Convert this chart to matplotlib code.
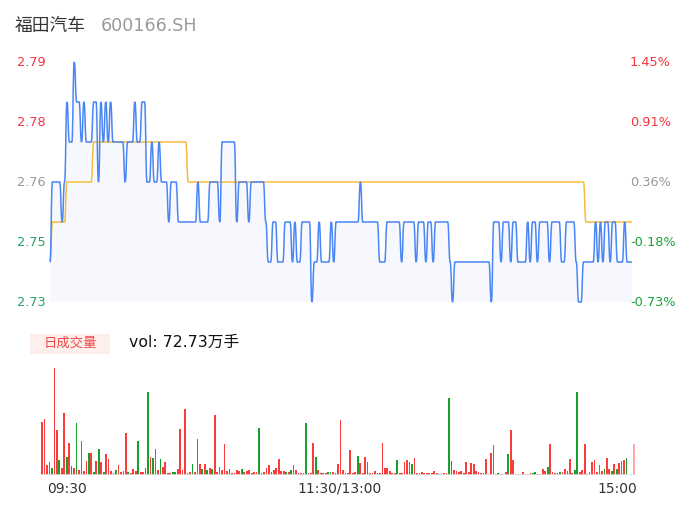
import matplotlib
matplotlib.use("Agg")
import matplotlib.pyplot as plt
from matplotlib.patches import Rectangle, PathPatch
from matplotlib.path import Path

plt.rcParams['font.family'] = ['DejaVu Sans', 'Noto Sans CJK SC']

name = "福田汽车"
code = "600166.SH"
prev_close = 2.75
total_vol = "72.73万手"

# minute prices, 09:30-11:30 then 13:01-15:00
price = [
    2.74, 2.76, 2.76, 2.76, 2.76, 2.75, 2.76, 2.78, 2.77, 2.77,
    2.79, 2.78, 2.78, 2.77, 2.78, 2.77, 2.77, 2.77, 2.78, 2.78,
    2.76, 2.78, 2.77, 2.78, 2.77, 2.78, 2.77, 2.77, 2.77, 2.77,
    2.77, 2.76, 2.77, 2.77, 2.77, 2.78, 2.77, 2.77, 2.78, 2.78,
    2.76, 2.76, 2.77, 2.76, 2.76, 2.77, 2.76, 2.76, 2.76, 2.75,
    2.76, 2.76, 2.76, 2.75, 2.75, 2.75, 2.75, 2.75, 2.75, 2.75,
    2.75, 2.76, 2.75, 2.75, 2.75, 2.75, 2.76, 2.76, 2.76, 2.76,
    2.75, 2.77, 2.77, 2.77, 2.77, 2.77, 2.77, 2.75, 2.76, 2.76,
    2.76, 2.76, 2.75, 2.76, 2.76, 2.76, 2.76, 2.76, 2.76, 2.75,
    2.74, 2.74, 2.75, 2.75, 2.74, 2.74, 2.74, 2.75, 2.75, 2.75,
    2.74, 2.75, 2.74, 2.74, 2.75, 2.75, 2.75, 2.75, 2.73, 2.74,
    2.74, 2.75, 2.74, 2.74, 2.74, 2.74, 2.75, 2.74, 2.75, 2.75,
    2.75, 2.75, 2.75, 2.75, 2.75, 2.75, 2.75, 2.75, 2.76, 2.75,
    2.75, 2.75, 2.75, 2.75, 2.75, 2.75, 2.74, 2.74, 2.74, 2.75,
    2.75, 2.75, 2.75, 2.75, 2.75, 2.74, 2.75, 2.75, 2.75, 2.75,
    2.75, 2.74, 2.75, 2.75, 2.75, 2.74, 2.75, 2.75, 2.74, 2.75,
    2.75, 2.75, 2.75, 2.75, 2.75, 2.74, 2.73, 2.74, 2.74, 2.74,
    2.74, 2.74, 2.74, 2.74, 2.74, 2.74, 2.74, 2.74, 2.74, 2.74,
    2.74, 2.74, 2.73, 2.75, 2.75, 2.75, 2.74, 2.75, 2.75, 2.75,
    2.74, 2.75, 2.75, 2.74, 2.74, 2.74, 2.74, 2.75, 2.74, 2.75,
    2.75, 2.74, 2.75, 2.75, 2.75, 2.75, 2.74, 2.75, 2.75, 2.75,
    2.75, 2.74, 2.74, 2.75, 2.75, 2.75, 2.75, 2.74, 2.73, 2.73,
    2.74, 2.74, 2.74, 2.74, 2.74, 2.75, 2.74, 2.75, 2.74, 2.75,
    2.75, 2.74, 2.75, 2.75, 2.74, 2.74, 2.74, 2.75, 2.74, 2.74,
    2.74,
]

# average price line (shown rounded to the tick)
avg = [
    2.74, 2.75, 2.75, 2.75, 2.75, 2.75, 2.75, 2.76, 2.76, 2.76,
    2.76, 2.76, 2.76, 2.76, 2.76, 2.76, 2.76, 2.76, 2.77, 2.77,
    2.77, 2.77, 2.77, 2.77, 2.77, 2.77, 2.77, 2.77, 2.77, 2.77,
    2.77, 2.77, 2.77, 2.77, 2.77, 2.77, 2.77, 2.77, 2.77, 2.77,
    2.77, 2.77, 2.77, 2.77, 2.77, 2.77, 2.77, 2.77, 2.77, 2.77,
    2.77, 2.77, 2.77, 2.77, 2.77, 2.77, 2.77, 2.76, 2.76, 2.76,
    2.76, 2.76, 2.76, 2.76, 2.76, 2.76, 2.76, 2.76, 2.76, 2.76,
    2.76, 2.76, 2.76, 2.76, 2.76, 2.76, 2.76, 2.76, 2.76, 2.76,
    2.76, 2.76, 2.76, 2.76, 2.76, 2.76, 2.76, 2.76, 2.76, 2.76,
    2.76, 2.76, 2.76, 2.76, 2.76, 2.76, 2.76, 2.76, 2.76, 2.76,
    2.76, 2.76, 2.76, 2.76, 2.76, 2.76, 2.76, 2.76, 2.76, 2.76,
    2.76, 2.76, 2.76, 2.76, 2.76, 2.76, 2.76, 2.76, 2.76, 2.76,
    2.76, 2.76, 2.76, 2.76, 2.76, 2.76, 2.76, 2.76, 2.76, 2.76,
    2.76, 2.76, 2.76, 2.76, 2.76, 2.76, 2.76, 2.76, 2.76, 2.76,
    2.76, 2.76, 2.76, 2.76, 2.76, 2.76, 2.76, 2.76, 2.76, 2.76,
    2.76, 2.76, 2.76, 2.76, 2.76, 2.76, 2.76, 2.76, 2.76, 2.76,
    2.76, 2.76, 2.76, 2.76, 2.76, 2.76, 2.76, 2.76, 2.76, 2.76,
    2.76, 2.76, 2.76, 2.76, 2.76, 2.76, 2.76, 2.76, 2.76, 2.76,
    2.76, 2.76, 2.76, 2.76, 2.76, 2.76, 2.76, 2.76, 2.76, 2.76,
    2.76, 2.76, 2.76, 2.76, 2.76, 2.76, 2.76, 2.76, 2.76, 2.76,
    2.76, 2.76, 2.76, 2.76, 2.76, 2.76, 2.76, 2.76, 2.76, 2.76,
    2.76, 2.76, 2.76, 2.76, 2.76, 2.76, 2.76, 2.76, 2.76, 2.76,
    2.76, 2.75, 2.75, 2.75, 2.75, 2.75, 2.75, 2.75, 2.75, 2.75,
    2.75, 2.75, 2.75, 2.75, 2.75, 2.75, 2.75, 2.75, 2.75, 2.75,
    2.75,
]

# per-minute volume (relative)
vol = [
    53, 56, 10, 13, 7, 107, 45, 15, 7, 62,
    18, 32, 9, 7, 52, 5, 34, 4, 14, 22,
    22, 3, 14, 26, 13, 3, 21, 16, 4, 2,
    5, 10, 3, 4, 42, 3, 2, 6, 4, 34,
    3, 3, 7, 83, 18, 17, 26, 5, 16, 8,
    13, 2, 2, 3, 3, 6, 46, 5, 66, 2,
    3, 11, 3, 36, 11, 6, 11, 5, 7, 6,
    60, 3, 8, 5, 31, 4, 6, 2, 2, 5,
    4, 6, 3, 4, 5, 2, 3, 3, 47, 2,
    3, 7, 10, 3, 5, 7, 16, 4, 4, 3,
    3, 5, 10, 5, 2, 2, 2, 52, 2, 2,
    32, 18, 5, 2, 2, 2, 3, 3, 3, 2,
    11, 55, 5, 2, 2, 25, 2, 3, 19, 12,
    2, 18, 13, 2, 2, 4, 2, 2, 32, 7,
    7, 4, 2, 2, 15, 2, 2, 13, 15, 13,
    11, 17, 2, 2, 3, 2, 2, 2, 2, 4,
    2, 1, 1, 2, 2, 77, 14, 5, 4, 3,
    4, 2, 13, 3, 12, 11, 4, 3, 2, 2,
    16, 1, 22, 30, 1, 2, 1, 1, 3, 21,
    45, 15, 1, 1, 1, 3, 1, 1, 2, 2,
    3, 1, 1, 6, 4, 8, 31, 3, 2, 2,
    3, 3, 6, 4, 16, 2, 5, 83, 3, 5,
    31, 1, 3, 13, 15, 3, 10, 4, 6, 17,
    6, 4, 11, 6, 12, 14, 15, 17, 0, 0,
    31,
]

# minutes that closed down (green bars)
down_bars = [4, 7, 10, 12, 14, 19, 21, 23, 25, 30, 35, 39, 43, 45, 48, 53, 54,
             61, 65, 67, 69, 76, 81, 88, 89, 93, 99, 101, 107, 111, 116, 117,
             128, 136, 144, 150, 161, 162, 165, 166, 181, 185, 186, 189, 199,
             200, 205, 210, 216, 217, 228, 231, 233, 237]

y_ticks = [2.79, 2.775, 2.76, 2.745, 2.73]
time_labels = ["09:30", "11:30/13:00", "15:00"]

RED = "#f5333f"
GREEN = "#1aa33a"
GRAY = "#999999"

W, H = 686, 524
fig = plt.figure(figsize=(W / 100, H / 100), dpi=100)


def px_box(left, top, right, bottom):
    return [left / W, 1 - bottom / H, (right - left) / W, (bottom - top) / H]


def fx(x):
    return x / W


def fy(y):
    return 1 - y / H


def smooth_path(ys, base=None):
    # cubic segments with flat tangents at every sample
    verts = [(0, ys[0])]
    codes = [Path.MOVETO]
    for i in range(1, len(ys)):
        verts += [(i - 0.5, ys[i - 1]), (i - 0.5, ys[i]), (i, ys[i])]
        codes += [Path.CURVE4] * 3
    if base is not None:
        verts += [(len(ys) - 1, base), (0, base), (0, ys[0])]
        codes += [Path.LINETO, Path.LINETO, Path.CLOSEPOLY]
    return Path(verts, codes)


# header
fig.text(fx(15), fy(26), name, fontsize=12.8, color="#333333", va="center",
         family=['Noto Sans CJK SC', 'DejaVu Sans'])
fig.text(fx(101), fy(26), code, fontsize=12.6, color=GRAY, va="center")

# price panel
ax = fig.add_axes(px_box(50, 62, 632, 302))
ax.add_patch(PathPatch(smooth_path(price, base=y_ticks[-1]), facecolor="#f6f8fe",
                       lw=0, zorder=1))
ax.add_patch(PathPatch(smooth_path(avg), fill=False, edgecolor="#f9bb3f",
                       lw=1.1, clip_on=False, zorder=2))
ax.add_patch(PathPatch(smooth_path(price), fill=False, edgecolor="#4a86f6",
                       lw=1.1, clip_on=False, zorder=3))
ax.set_xlim(0, len(price) - 1)
ax.set_ylim(y_ticks[-1], y_ticks[0])
ax.axis("off")

for v in y_ticks:
    pct = (v / prev_close - 1) * 100
    if abs(v - 2.76) < 1e-9:
        c_left = c_right = GRAY
    elif v > prev_close:
        c_left = c_right = RED
    else:
        c_left, c_right = "#26a06a", GREEN
    yy = ax.transData.transform((0, v))[1] / H
    fig.text(fx(46), yy, f"{v + 1e-9:.2f}", color=c_left, fontsize=9.3,
             ha="right", va="center")
    fig.text(fx(630), yy, f"{pct:.2f}%", color=c_right, fontsize=9.3,
             ha="left", va="center")

# volume header
fig.patches.append(Rectangle((fx(30), fy(354)), fx(80), 20 / H,
                             transform=fig.transFigure, color="#fdf0ec", lw=0))
fig.text(fx(70), fy(343), "日成交量", color="#f04848", fontsize=9.6,
         ha="center", va="center", family=['Noto Sans CJK SC', 'DejaVu Sans'])
fig.text(fx(129), fy(342), "vol: " + total_vol, color="#111111", fontsize=11.3,
         ha="left", va="center")

# volume panel
axv = fig.add_axes(px_box(40.8, 368, 635.2, 475))
colors = []
for i in range(len(vol)):
    if i == len(vol) - 1:
        colors.append("#ffa8a8")
    elif i in down_bars:
        colors.append("#17a02a")
    else:
        colors.append("#fa3c3c")
axv.bar(range(len(vol)), vol, width=0.7, color=colors, lw=0)
axv.axhline(0, color="#dcdcdc", lw=1.2)
axv.set_xlim(-0.5, len(vol) - 0.5)
axv.set_ylim(0, max(vol))
axv.axis("off")

# time axis
fig.text(fx(47), fy(489), time_labels[0], color="#333333", fontsize=10, ha="left", va="center")
fig.text(fx(340), fy(489), time_labels[1], color="#333333", fontsize=10, ha="center", va="center")
fig.text(fx(637), fy(489), time_labels[2], color="#333333", fontsize=10, ha="right", va="center")

fig.savefig("out.png", dpi=100)
